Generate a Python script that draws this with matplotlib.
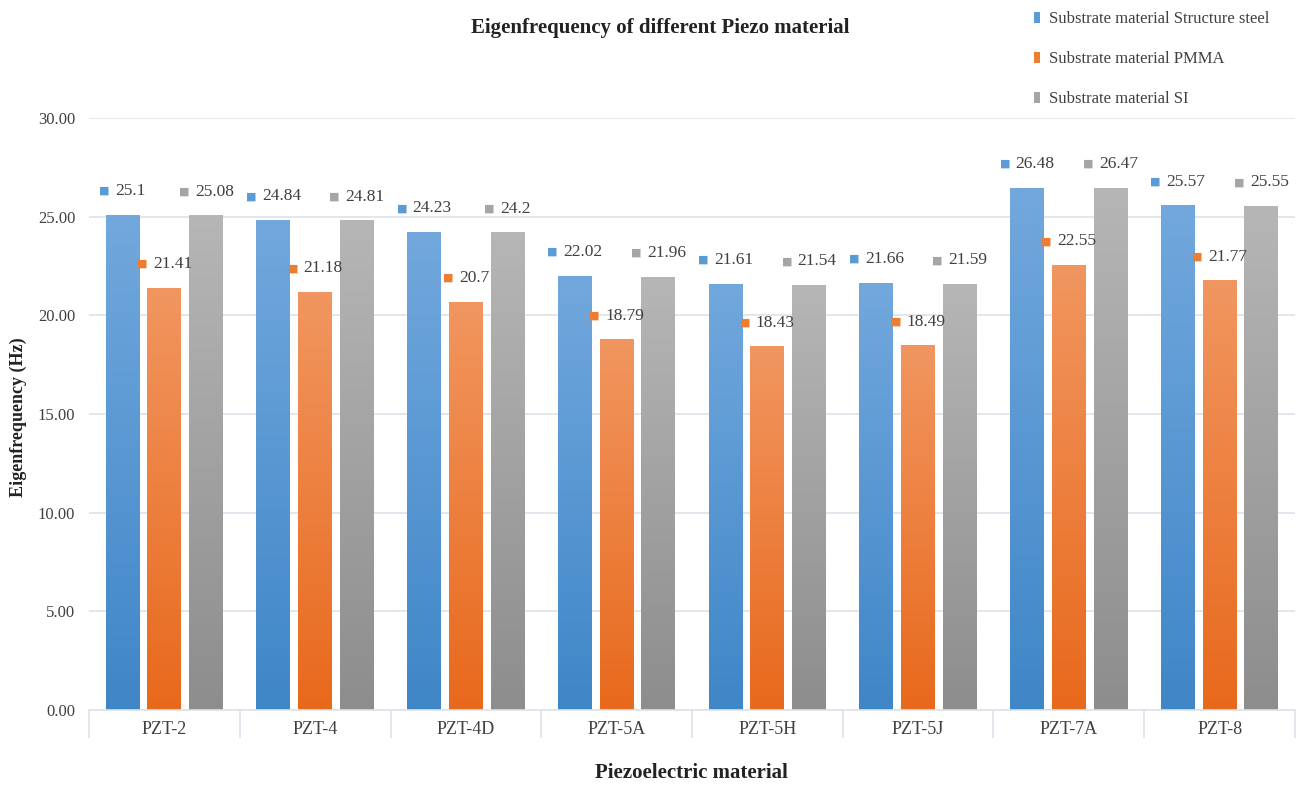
import numpy as np
import matplotlib
matplotlib.use("Agg")
import matplotlib.pyplot as plt
from matplotlib.colors import LinearSegmentedColormap
from matplotlib.offsetbox import TextArea, HPacker, AnnotationBbox
from matplotlib.patches import Patch

plt.rcParams['font.family'] = ['Liberation Serif', 'DejaVu Serif']

# data
materials = ["PZT-2", "PZT-4", "PZT-4D", "PZT-5A", "PZT-5H", "PZT-5J", "PZT-7A", "PZT-8"]
steel = [25.1, 24.84, 24.23, 22.02, 21.61, 21.66, 26.48, 25.57]
pmma = [21.41, 21.18, 20.7, 18.79, 18.43, 18.49, 22.55, 21.77]
si = [25.08, 24.81, 24.2, 21.96, 21.54, 21.59, 26.47, 25.55]
series_names = ["Substrate material Structure steel", "Substrate material PMMA", "Substrate material SI"]
series_vals = [steel, pmma, si]

# colors: (top, bottom, legend)
colors = [("#72a8dd", "#3f86c7", "#5b9bd5"),
          ("#f19660", "#e8691c", "#ed7d31"),
          ("#b6b6b6", "#8d8d8d", "#a5a5a5")]

fig = plt.figure(figsize=(13.02, 7.87), dpi=100)
ax = fig.add_axes([0.0684, 0.0978, 0.9262, 0.7522])

x = np.arange(len(materials))
width = 0.225
offsets = [-0.277, 0.0, 0.277]

grad = np.linspace(1, 0, 256).reshape(-1, 1)
handles = []
for vals, off, (ctop, cbot, cleg), name in zip(series_vals, offsets, colors, series_names):
    bars = ax.bar(x + off, vals, width, facecolor="none", edgecolor="none", zorder=2)
    handles.append(Patch(facecolor=cleg, label=name))
    cmap = LinearSegmentedColormap.from_list("g", [cbot, ctop])
    for b, v in zip(bars, vals):
        x0 = b.get_x()
        im = ax.imshow(grad, cmap=cmap, aspect="auto", zorder=2,
                       extent=[x0, x0 + b.get_width(), 0, v], origin="upper",
                       vmin=0, vmax=1)
        im.set_clip_path(b)
        box = HPacker(children=[
            TextArea("■", textprops=dict(color=cleg, fontsize=8, family="DejaVu Sans")),
            TextArea(f"{v:g}", textprops=dict(color="#404040", fontsize=12.5))],
            align="center", pad=0, sep=4)
        ab = AnnotationBbox(box, (b.get_x() + b.get_width() / 2, v),
                            xybox=(0, 17), boxcoords="offset points",
                            frameon=False, box_alignment=(0.5, 0.5), zorder=3)
        ax.add_artist(ab)

ax.set_xlim(-0.5, len(materials) - 0.5)
ax.set_ylim(0, 30)
ax.set_yticks(np.arange(0, 30.1, 5))
ax.set_yticklabels([f"{t:.2f}" for t in np.arange(0, 30.1, 5)], fontsize=12, color="#404040")
ax.yaxis.grid(True, color="#dce3ea", linewidth=1.2, zorder=0)
ax.set_axisbelow(True)
ax.tick_params(axis="y", length=0, pad=10)

ax.set_xticks(x)
ax.set_xticklabels(materials, fontsize=13, color="#404040")
ax.set_xticks(np.arange(-0.5, len(materials), 1), minor=True)
ax.tick_params(axis="x", which="major", length=0, pad=8)
ax.tick_params(axis="x", which="minor", length=20, color="#dce3ea", width=1.2)

for s in ["top", "right", "left"]:
    ax.spines[s].set_visible(False)
ax.spines["bottom"].set_color("#dce3ea")
ax.spines["bottom"].set_linewidth(1.2)

fig.text(0.507, 0.965, "Eigenfrequency of different Piezo material", ha="center", va="center",
         fontsize=15, fontweight="bold", color="#222222")
fig.text(0.014, 0.47, "Eigenfrequency (Hz)", rotation=90, ha="center", va="center",
         fontsize=13, fontweight="bold", color="#222222")
fig.text(0.531, 0.018, "Piezoelectric material", ha="center", va="center",
         fontsize=15, fontweight="bold", color="#222222")

leg = fig.legend(handles=handles, loc="upper left", bbox_to_anchor=(0.783, 1.005), frameon=False,
                 fontsize=12, handlelength=0.35, handleheight=0.65, handletextpad=0.5,
                 labelspacing=1.45)
for t in leg.get_texts():
    t.set_color("#404040")

fig.savefig("out.png", dpi=100)
